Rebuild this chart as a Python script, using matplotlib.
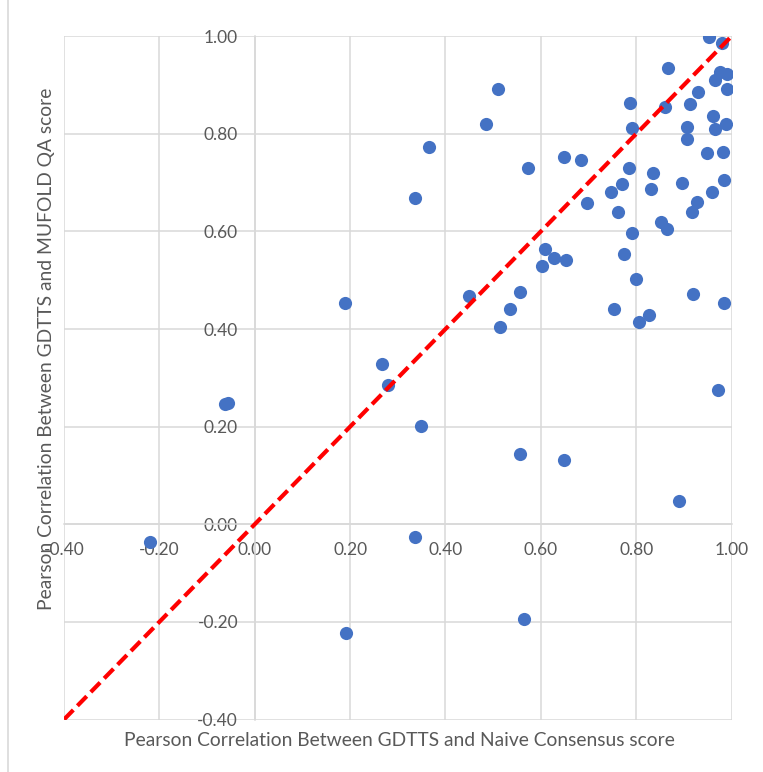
import numpy as np
import matplotlib
matplotlib.use("Agg")
import matplotlib.pyplot as plt
from matplotlib.lines import Line2D

plt.rcParams['font.family'] = ['Lato', 'DejaVu Sans']

# Pearson correlation with GDTTS: naive consensus (x) vs MUFOLD QA (y)
naive = [0.953, 0.980, 0.867, 0.976, 0.990, 0.965, 0.930, 0.991, 0.510, 0.860,
         0.787, 0.913, 0.961, 0.791, 0.906, 0.965, 0.988, 0.485, 0.906, 0.949,
         0.982, 0.365, 0.648, 0.684, 0.573, 0.785, 0.835, 0.896, 0.984, 0.770,
         0.747, 0.831, 0.959, 0.336, 0.927, 0.697, 0.917, 0.762, 0.852, 0.865,
         0.791, 0.609, 0.775, 0.628, 0.653, 0.602, 0.800, 0.556, 0.919, 0.449,
         0.984, 0.189, 0.753, 0.535, 0.827, 0.806, 0.515, 0.266, 0.279, 0.972,
         -0.063, -0.057, 0.348, 0.556, 0.649, 0.890, 0.336, -0.220, 0.565, 0.191]
mufold = [0.999, 0.986, 0.935, 0.927, 0.922, 0.910, 0.886, 0.892, 0.893, 0.855,
          0.863, 0.861, 0.837, 0.812, 0.814, 0.810, 0.821, 0.820, 0.789, 0.761,
          0.763, 0.774, 0.753, 0.747, 0.730, 0.730, 0.720, 0.700, 0.705, 0.698,
          0.681, 0.687, 0.680, 0.668, 0.660, 0.658, 0.640, 0.640, 0.620, 0.605,
          0.597, 0.564, 0.554, 0.546, 0.542, 0.529, 0.503, 0.476, 0.472, 0.468,
          0.454, 0.453, 0.442, 0.441, 0.429, 0.415, 0.405, 0.329, 0.286, 0.276,
          0.247, 0.248, 0.201, 0.144, 0.132, 0.048, -0.026, -0.036, -0.194, -0.223]
diag = [-0.4, 1.0]
ticks = np.arange(-0.4, 1.01, 0.2)

fig = plt.figure(figsize=(7.63, 7.72), dpi=100)
ax = fig.add_axes([64/763, 1 - 719.5/772, (731.5 - 64)/763, (719.5 - 36.3)/772])

grid_c = '#D9D9D9'
txt_c = '#595959'

ax.set_xlim(-0.4, 1.0)
ax.set_ylim(-0.4, 1.0)
ax.set_xticks(ticks)
ax.set_yticks(ticks)
ax.set_xticklabels([f'{t:.2f}' for t in ticks])
ax.set_yticklabels([f'{t:.2f}' for t in ticks])
ax.grid(True, color=grid_c, linewidth=1.1, zorder=0)
ax.set_axisbelow(True)

for s in ['top', 'right']:
    ax.spines[s].set_visible(False)
ax.spines['left'].set_position(('data', 0))
ax.spines['bottom'].set_position(('data', 0))
for s in ['left', 'bottom']:
    ax.spines[s].set_color(grid_c)
    ax.spines[s].set_linewidth(1.1)
ax.tick_params(axis='both', length=0, labelsize=12.5, labelcolor=txt_c)
ax.tick_params(axis='x', pad=13)
ax.tick_params(axis='y', pad=12)

ax.scatter(naive, mufold, s=90, color='#4472C4', zorder=3, linewidths=0)
ax.plot(diag, diag, color='#FF0000', linewidth=3, linestyle=(0, (3.2, 1.4)), zorder=4)

fig.text(399/763, 1 - 740/772, 'Pearson Correlation Between GDTTS and Naive Consensus score',
         ha='center', va='center', fontsize=13.9, color=txt_c)
fig.text(47/763, 1 - 349/772, 'Pearson Correlation Between GDTTS and MUFOLD QA score',
         ha='center', va='center', rotation=90, fontsize=13.9, color=txt_c)

fig.add_artist(Line2D([8/763, 8/763], [0, 1], color=grid_c, linewidth=1.2))

fig.savefig('out.png', dpi=100)
